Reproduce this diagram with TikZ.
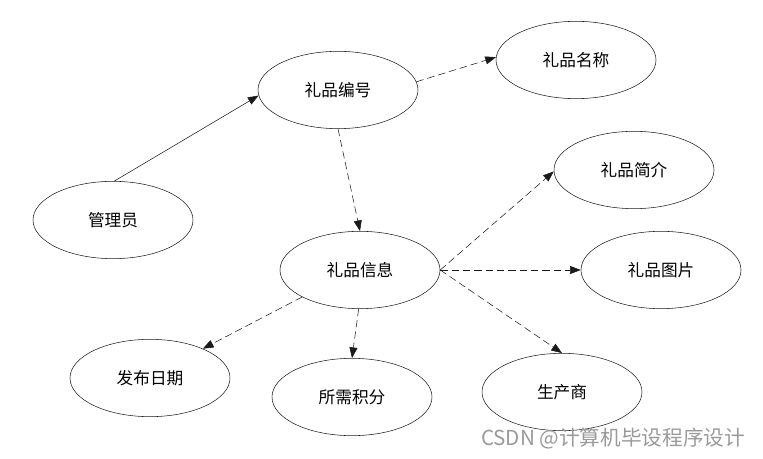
\documentclass[tikz,border=0pt]{standalone}
\usepackage{fontspec}
\setmainfont{Noto Sans CJK SC}
\usepackage{tikz}
\usetikzlibrary{shapes.geometric, arrows.meta}
\definecolor{entline}{HTML}{1a1a1a}
\definecolor{markgray}{HTML}{9a9a9a}

\begin{document}
\begin{tikzpicture}[x=0.75pt, y=-0.75pt, font=\fontsize{12.5}{15}\selectfont,
 attr/.style={ellipse, draw=entline, minimum width=120pt, minimum height=58pt, inner sep=0pt},
 link/.style={-{Triangle[length=8pt,width=6pt]}, entline},
 dlink/.style={link, dash pattern=on 5.5pt off 3pt}]
\useasboundingbox (0,0) rectangle (763,459);

\node[attr](gly) at (113,220){管理员};
\node[attr](lpbh) at (338,90){礼品编号};
\node[attr](lpmc) at (576,60){礼品名称};
\node[attr](lpjj) at (634,170){礼品简介};
\node[attr](lpxx) at (360,270){礼品信息};
\node[attr](lptp) at (661,270){礼品图片};
\node[attr](fbrq) at (150,378){发布日期};
\node[attr](sxjf) at (352,397){所需积分};
\node[attr](scs) at (562,392){生产商};

\draw[link](gly.88)--(lpbh.184);
\foreach \a/\b in {lpbh.6/lpmc.178,lpbh.south/lpxx.north,lpxx.east/lpjj.181,
  lpxx.east/lptp.west,lpxx.east/scs.north,lpxx.205/fbrq.29,lpxx.268/sxjf.north}
  {\draw[dlink](\a)--(\b);}

\node[text=markgray, font=\fontsize{15.5}{18}\selectfont, anchor=east](wm) at (750,439){CSDN @计算机毕设程序设计};
\end{tikzpicture}
\end{document}
